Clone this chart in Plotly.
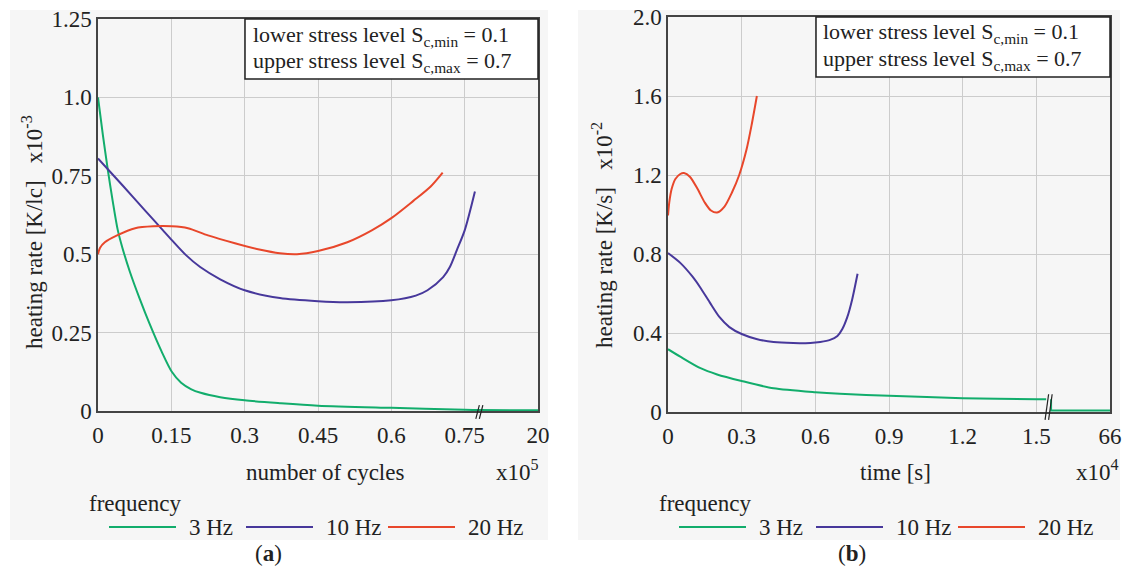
import plotly.graph_objects as go

W, H = 1123, 572

# ---------------- data: panel (a) heating rate vs number of cycles ----------------
cycles_tickvals = [0, 0.15, 0.3, 0.45, 0.6, 0.75, 0.9]
cycles_ticktext = ["0", "0.15", "0.3", "0.45", "0.6", "0.75", "20"]
rate_a_tickvals = [0, 0.25, 0.5, 0.75, 1.0, 1.25]
rate_a_ticktext = ["0", "0.25", "0.5", "0.75", "1.0", "1.25"]

a_3hz_x = [0, 0.01, 0.02, 0.03, 0.04, 0.05, 0.065, 0.086, 0.105, 0.13, 0.151, 0.17,
           0.19, 0.21, 0.25, 0.3, 0.372, 0.45, 0.6, 0.75, 0.78, 0.9]
a_3hz_y = [1.0, 0.88, 0.77, 0.67, 0.58, 0.52, 0.445, 0.355, 0.28, 0.19, 0.125, 0.09,
           0.07, 0.058, 0.044, 0.034, 0.025, 0.017, 0.010, 0.004, 0.003, 0.002]

a_10hz_x = [0, 0.05, 0.096, 0.133, 0.151, 0.18, 0.209, 0.25, 0.3, 0.372, 0.45, 0.51,
            0.6, 0.65, 0.674, 0.706, 0.72, 0.734, 0.75, 0.771]
a_10hz_y = [0.805, 0.72, 0.64, 0.576, 0.545, 0.497, 0.459, 0.42, 0.385, 0.36, 0.35, 0.347,
            0.353, 0.368, 0.385, 0.427, 0.46, 0.513, 0.576, 0.70]

a_20hz_x = [0, 0.004, 0.014, 0.039, 0.076, 0.113, 0.151, 0.184, 0.225, 0.28, 0.33, 0.372,
            0.407, 0.45, 0.51, 0.56, 0.6, 0.645, 0.68, 0.705]
a_20hz_y = [0.50, 0.52, 0.538, 0.56, 0.583, 0.589, 0.589, 0.583, 0.56, 0.535, 0.515, 0.503,
            0.50, 0.51, 0.538, 0.576, 0.615, 0.67, 0.715, 0.76]

# ---------------- data: panel (b) heating rate vs time ----------------
time_tickvals = [0, 0.3, 0.6, 0.9, 1.2, 1.5, 1.8]
time_ticktext = ["0", "0.3", "0.6", "0.9", "1.2", "1.5", "66"]
rate_b_tickvals = [0, 0.4, 0.8, 1.2, 1.6, 2.0]
rate_b_ticktext = ["0", "0.4", "0.8", "1.2", "1.6", "2.0"]

b_3hz_x = [0, 0.05, 0.13, 0.2, 0.3, 0.43, 0.6, 0.7, 0.9, 1.2, 1.5, 1.54]
b_3hz_y = [0.318, 0.28, 0.223, 0.19, 0.157, 0.12, 0.10, 0.092, 0.082, 0.07, 0.065, 0.064]
b_3hz_tail_x = [1.56, 1.56, 1.8]
b_3hz_tail_y = [0.064, 0.008, 0.008]

b_10hz_x = [0, 0.05, 0.1, 0.13, 0.17, 0.21, 0.25, 0.3, 0.36, 0.43, 0.51, 0.58, 0.62,
            0.66, 0.69, 0.71, 0.73, 0.75, 0.772]
b_10hz_y = [0.805, 0.755, 0.685, 0.633, 0.555, 0.48, 0.43, 0.395, 0.37, 0.354, 0.349, 0.35,
            0.355, 0.365, 0.385, 0.42, 0.48, 0.57, 0.70]

b_20hz_x = [0, 0.005, 0.015, 0.03, 0.05, 0.065, 0.09, 0.12, 0.15, 0.175, 0.2, 0.23, 0.26,
            0.29, 0.32, 0.34, 0.362]
b_20hz_y = [0.995, 1.06, 1.13, 1.18, 1.205, 1.21, 1.19, 1.13, 1.06, 1.02, 1.01, 1.04, 1.11,
            1.20, 1.33, 1.45, 1.60]

series_names = ["3 Hz", "10 Hz", "20 Hz"]
series_colors = ["#12ad6c", "#47389b", "#e8472b"]

BREAK_A = 0.78   # axis break position, panel (a)
BREAK_B = 1.55   # axis break position, panel (b)
XMAX_A, XMAX_B = 0.9, 1.8

# ---------------- layout helpers ----------------
def px(x):
    return x / W

def py(y):
    return 1 - y / H

SERIF = "Liberation Serif"
TXT = "#222222"

fig = go.Figure()

LW = 2
panel_a = [(a_3hz_x, a_3hz_y), (a_10hz_x, a_10hz_y), (a_20hz_x, a_20hz_y)]
for (xs, ys), name, col in zip(panel_a, series_names, series_colors):
    fig.add_trace(go.Scatter(x=xs, y=ys, mode="lines", name=name, showlegend=False,
                             line=dict(color=col, width=LW, shape="spline", smoothing=0.8),
                             xaxis="x", yaxis="y"))

panel_b = [(b_3hz_x, b_3hz_y), (b_10hz_x, b_10hz_y), (b_20hz_x, b_20hz_y)]
for (xs, ys), name, col in zip(panel_b, series_names, series_colors):
    fig.add_trace(go.Scatter(x=xs, y=ys, mode="lines", name=name, showlegend=False,
                             line=dict(color=col, width=LW, shape="spline", smoothing=0.7),
                             xaxis="x2", yaxis="y2"))
fig.add_trace(go.Scatter(x=b_3hz_tail_x, y=b_3hz_tail_y, mode="lines", showlegend=False,
                         line=dict(color=series_colors[0], width=LW),
                         xaxis="x2", yaxis="y2"))

axis_common = dict(showgrid=True, gridcolor="#cccccc", gridwidth=1, zeroline=False,
                   showline=True, linecolor="#444444", linewidth=1.5, mirror=True,
                   ticks="outside", tickcolor="rgba(0,0,0,0)", automargin=False,
                   tickfont=dict(family=SERIF, size=23, color=TXT))

fig.update_layout(
    width=W, height=H,
    margin=dict(l=0, r=0, t=0, b=0, pad=0, autoexpand=False),
    paper_bgcolor="white",
    plot_bgcolor="rgba(0,0,0,0)",
    showlegend=False,
    xaxis=dict(axis_common, domain=[px(98), px(538)], range=[0, XMAX_A],
               tickvals=cycles_tickvals, ticktext=cycles_ticktext, ticklen=3, anchor="y"),
    yaxis=dict(axis_common, domain=[py(411), py(19)], range=[0, 1.25],
               tickvals=rate_a_tickvals, ticktext=rate_a_ticktext, ticklen=0, anchor="x"),
    xaxis2=dict(axis_common, domain=[px(668), px(1110)], range=[0, XMAX_B],
                tickvals=time_tickvals, ticktext=time_ticktext, ticklen=3, anchor="y2"),
    yaxis2=dict(axis_common, domain=[py(412), py(17)], range=[0, 2.0],
                tickvals=rate_b_tickvals, ticktext=rate_b_ticktext, ticklen=0, anchor="x2"),
)

shapes = []
# grey panel backgrounds
for x0, x1 in [(10, 548), (578, 1120)]:
    shapes.append(dict(type="rect", xref="paper", yref="paper", x0=px(x0), x1=px(x1),
                       y0=py(540), y1=py(10), fillcolor="#f6f6f6", line=dict(width=0),
                       layer="below"))
# stress level boxes
for x0, x1, y0, y1 in [(245, 538, 19, 79), (816, 1110, 17, 77)]:
    shapes.append(dict(type="rect", xref="paper", yref="paper", x0=px(x0), x1=px(x1),
                       y0=py(y1), y1=py(y0), fillcolor="white",
                       line=dict(color="#222222", width=1.5), layer="above"))
# axis break marks
for xr, bx, xmax, h in [("x domain", BREAK_A, XMAX_A, 0.035), ("x2 domain", BREAK_B, XMAX_B, 0.065)]:
    yr = "y domain" if xr == "x domain" else "y2 domain"
    f = bx / xmax
    for dx in (-0.004, 0.004):
        shapes.append(dict(type="line", xref=xr, yref=yr, x0=f + dx - 0.004, x1=f + dx + 0.004,
                           y0=-0.02, y1=-0.02 + h, line=dict(color="#222222", width=1.2)))

# legend lines
LEG_OFFS = [11, 148, 290]
for ax_left in (98, 668):
    for off, col in zip(LEG_OFFS, series_colors):
        shapes.append(dict(type="line", xref="paper", yref="paper",
                           x0=px(ax_left + off), x1=px(ax_left + off + 67),
                           y0=py(527), y1=py(527), line=dict(color=col, width=2)))

annotations = []
def txt(text, x, y, xanchor="center", yanchor="middle", size=23, angle=0, family=SERIF):
    annotations.append(dict(text=text, x=px(x), y=py(y), xref="paper", yref="paper",
                            xanchor=xanchor, yanchor=yanchor, showarrow=False,
                            textangle=angle, font=dict(family=family, size=size, color=TXT)))

# stress level text
for xl, y1, y2 in [(251, 36, 62), (821, 33, 60)]:
    txt("lower stress level S<sub>c,min</sub> = 0.1", xl, y1, xanchor="left", size=22)
    txt("upper stress level S<sub>c,max</sub> = 0.7", xl, y2, xanchor="left", size=22)

# axis titles
txt("heating rate [K/lc]\u00a0\u00a0 x10<sup>-3</sup>", 32, 232, angle=-90, size=23)
txt("heating rate [K/s]\u00a0\u00a0 x10<sup>-2</sup>", 602, 235, angle=-90, size=23)
txt("number of cycles", 325, 472)
txt("x10<sup>5</sup>", 541, 470, xanchor="right")
txt("time [s]", 895, 472)
txt("x10<sup>4</sup>", 1121, 470, xanchor="right")

# legend text
for ax_left in (98, 668):
    txt("frequency", ax_left - 11, 503, xanchor="left")
    for off, name in zip(LEG_OFFS, series_names):
        txt(name, ax_left + off + 78, 527, xanchor="left")

txt("(<b>a</b>)", 268, 553, size=23)
txt("(<b>b</b>)", 852, 553, size=23)

fig.update_layout(shapes=shapes, annotations=annotations)
# remove the browser's default 8px page margin so the figure fills the window exactly
fig.write_html("out.html", config={"displayModeBar": False},
               post_script="document.body.style.margin='0';")
